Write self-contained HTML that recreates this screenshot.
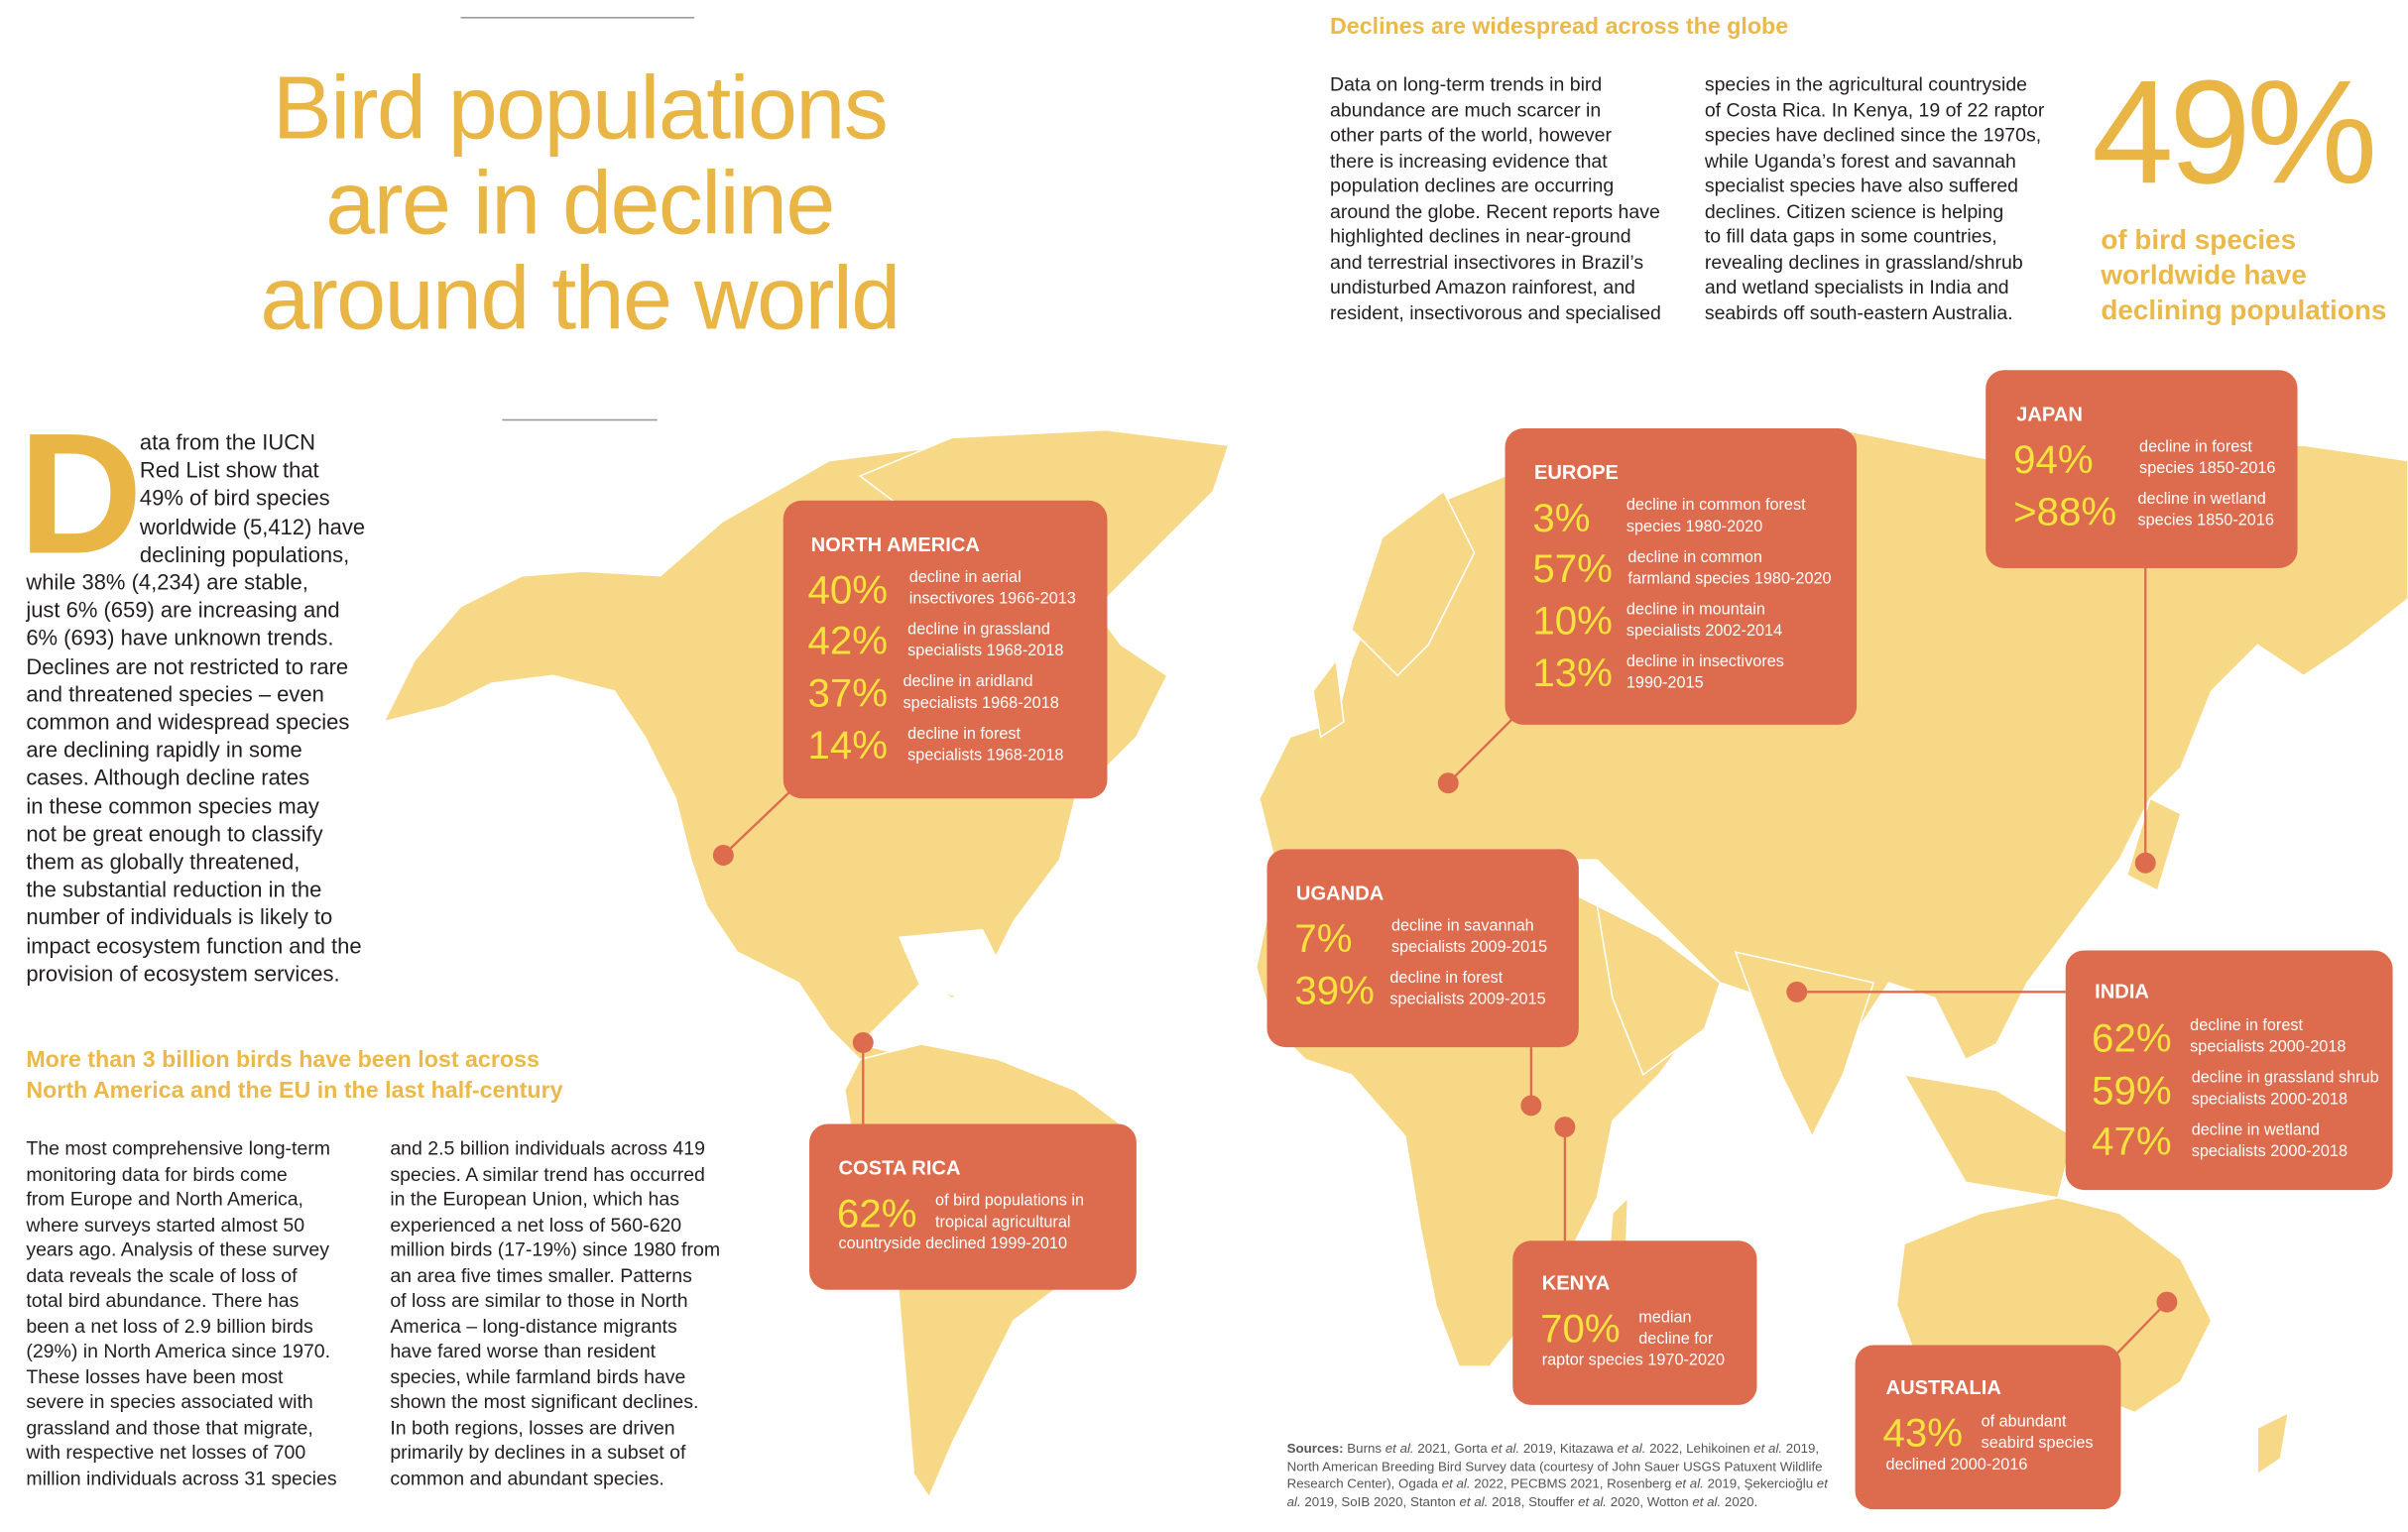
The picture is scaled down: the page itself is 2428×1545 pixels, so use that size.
<!DOCTYPE html>
<html><head><meta charset="utf-8">
<style>
html,body{margin:0;padding:0;background:#fff;}
body{width:2428px;height:1544px;overflow:hidden;}
#wrap{position:absolute;left:0;top:0;width:1568px;height:998px;transform:scale(1.5485);transform-origin:0 0;font-family:"Liberation Sans",sans-serif;color:#231f20;}
.abs{position:absolute;}
.title{left:100px;top:40px;width:555px;text-align:center;font-family:"Liberation Sans",sans-serif;font-size:58px;line-height:62px;color:#e9b545;letter-spacing:-1px;}
.p{font-size:14.2px;line-height:18.2px;}
.c{font-size:12.6px;line-height:16.5px;}
.h{font-weight:bold;color:#ebb84a;font-size:15px;line-height:20px;}
.box{position:absolute;background:#dd6b4d;border-radius:12px;color:#fff;}
.bt{position:absolute;font-weight:bold;font-size:13px;}
.pc{position:absolute;color:#f5e33b;font-size:26px;line-height:26px;}
.ds{position:absolute;font-size:10.5px;line-height:14px;}
</style></head><body>
<div id="wrap">
<svg class="abs" style="left:0;top:0" width="1568" height="998">
<g fill="#f6d886" stroke="#fff" stroke-width="1">
<polygon points="250,470 270,430 300,395 340,375 380,372 430,375 470,340 540,300 620,290 700,300 720,330 700,380 730,420 760,440 740,480 700,520 690,560 660,600 640,640 620,650 600,640 580,660 560,680 600,690 590,700 560,690 540,670 520,640 480,620 460,590 450,560 440,520 420,480 400,450 360,440 320,445 290,460"/>
<polygon points="560,310 620,285 720,280 800,290 790,320 760,350 720,390 690,430 670,400 640,360 600,340"/>
<polygon points="560,690 600,680 650,690 700,710 740,740 735,780 700,830 660,860 640,900 620,940 605,975 595,960 590,900 585,840 570,780 555,740 550,710"/>
<polygon points="830,560 820,520 840,480 870,470 880,430 900,380 930,330 980,310 1000,290 1100,300 1200,280 1300,300 1400,290 1500,290 1568,300 1568,390 1530,420 1500,440 1470,420 1440,450 1420,500 1400,520 1380,560 1350,600 1320,640 1300,680 1280,690 1260,650 1230,640 1210,670 1200,700 1180,735 1160,690 1150,650 1120,640 1100,620 1080,600 1060,580 1040,560 1000,560 960,555 920,560 880,560"/>
<polygon points="880,410 900,350 940,320 960,360 930,420 910,440"/>
<polygon points="855,450 870,430 875,470 860,480"/>
<polygon points="830,575 880,560 960,560 1000,570 1040,590 1060,620 1090,650 1110,660 1080,700 1050,730 1040,780 1010,840 970,890 950,890 935,850 925,800 915,740 880,700 850,690 830,670 818,630"/>
<polygon points="1050,790 1060,780 1058,840 1045,850"/>
<polygon points="1040,590 1080,610 1120,640 1110,670 1070,700 1050,650"/>
<polygon points="1130,620 1220,640 1200,700 1180,740 1160,700"/>
<polygon points="1240,700 1300,710 1350,740 1340,780 1280,770"/>
<polygon points="1240,810 1290,790 1340,780 1380,790 1420,820 1440,860 1420,900 1390,920 1340,900 1300,890 1250,890 1235,850"/>
<polygon points="1470,930 1490,920 1485,950 1470,960"/>
<polygon points="1400,520 1420,530 1405,580 1385,570"/>
</g>
<polygon fill="#fff" points="585,610 640,605 655,635 630,650 600,645"/>
<g stroke="#dd6b4d" stroke-width="1.5" fill="#dd6b4d">
<line x1="471" y1="557" x2="515" y2="515"/><circle cx="471" cy="557" r="6"/>
<line x1="943" y1="510" x2="985" y2="468"/><circle cx="943" cy="510" r="6"/>
<line x1="1397" y1="562" x2="1397" y2="370"/><circle cx="1397" cy="562" r="6"/>
<line x1="997" y1="720" x2="997" y2="682"/><circle cx="997" cy="720" r="6"/>
<line x1="1019" y1="734" x2="1019" y2="808"/><circle cx="1019" cy="734" r="6"/>
<line x1="1170" y1="646" x2="1345" y2="646"/><circle cx="1170" cy="646" r="6"/>
<line x1="562" y1="679" x2="562" y2="732"/><circle cx="562" cy="679" r="6"/>
<line x1="1411" y1="848" x2="1378" y2="882"/><circle cx="1411" cy="848" r="6"/>
</g>
</svg>

<div class="abs" style="left:300px;top:11px;width:152px;height:1px;background:#999"></div>
<div class="abs title">Bird populations<br>are in decline<br>around the world</div>
<div class="abs" style="left:327px;top:273px;width:101px;height:1px;background:#999"></div>

<div class="abs" style="left:12px;top:262px;font-size:112px;font-weight:bold;color:#e9b545;line-height:120px">D</div>
<div class="abs p" style="left:91px;top:280px;width:160px">ata from the IUCN<br>Red List show that<br>49% of bird species<br>worldwide (5,412) have<br>declining populations,</div>
<div class="abs p" style="left:17px;top:371px;width:240px">while 38% (4,234) are stable,<br>just 6% (659) are increasing and<br>6% (693) have unknown trends.<br>Declines are not restricted to rare<br>and threatened species – even<br>common and widespread species<br>are declining rapidly in some<br>cases. Although decline rates<br>in these common species may<br>not be great enough to classify<br>them as globally threatened,<br>the substantial reduction in the<br>number of individuals is likely to<br>impact ecosystem function and the<br>provision of ecosystem services.</div>

<div class="abs h" style="left:17px;top:681px">More than 3 billion birds have been lost across<br>North America and the EU in the last half-century</div>
<div class="abs c" style="left:17px;top:740px;width:230px">The most comprehensive long-term<br>monitoring data for birds come<br>from Europe and North America,<br>where surveys started almost 50<br>years ago. Analysis of these survey<br>data reveals the scale of loss of<br>total bird abundance. There has<br>been a net loss of 2.9 billion birds<br>(29%) in North America since 1970.<br>These losses have been most<br>severe in species associated with<br>grassland and those that migrate,<br>with respective net losses of 700<br>million individuals across 31 species</div>
<div class="abs c" style="left:254px;top:740px;width:230px">and 2.5 billion individuals across 419<br>species. A similar trend has occurred<br>in the European Union, which has<br>experienced a net loss of 560-620<br>million birds (17-19%) since 1980 from<br>an area five times smaller. Patterns<br>of loss are similar to those in North<br>America – long-distance migrants<br>have fared worse than resident<br>species, while farmland birds have<br>shown the most significant declines.<br>In both regions, losses are driven<br>primarily by declines in a subset of<br>common and abundant species.</div>

<div class="abs h" style="left:866px;top:8px">Declines are widespread across the globe</div>
<div class="abs c" style="left:866px;top:47px;width:240px">Data on long-term trends in bird<br>abundance are much scarcer in<br>other parts of the world, however<br>there is increasing evidence that<br>population declines are occurring<br>around the globe. Recent reports have<br>highlighted declines in near-ground<br>and terrestrial insectivores in Brazil’s<br>undisturbed Amazon rainforest, and<br>resident, insectivorous and specialised</div>
<div class="abs c" style="left:1110px;top:47px;width:240px">species in the agricultural countryside<br>of Costa Rica. In Kenya, 19 of 22 raptor<br>species have declined since the 1970s,<br>while Uganda’s forest and savannah<br>specialist species have also suffered<br>declines. Citizen science is helping<br>to fill data gaps in some countries,<br>revealing declines in grassland/shrub<br>and wetland specialists in India and<br>seabirds off south-eastern Australia.</div>
<div class="abs" style="left:1362px;top:32px;font-size:96px;line-height:110px;color:#e9b545;letter-spacing:-3px">49%</div>
<div class="abs" style="left:1368px;top:145px;font-size:18px;line-height:23px;font-weight:bold;color:#ebb84a">of bird species<br>worldwide have<br>declining populations</div>

<div class="box" style="left:510px;top:326px;width:211px;height:194px">
<div class="bt" style="left:18px;top:21px">NORTH AMERICA</div>
<div class="pc" style="left:16px;top:45px">40%</div><div class="ds" style="left:82px;top:43px">decline in aerial<br>insectivores 1966-2013</div>
<div class="pc" style="left:16px;top:78px">42%</div><div class="ds" style="left:81px;top:77px">decline in grassland<br>specialists 1968-2018</div>
<div class="pc" style="left:16px;top:112px">37%</div><div class="ds" style="left:78px;top:111px">decline in aridland<br>specialists 1968-2018</div>
<div class="pc" style="left:16px;top:146px">14%</div><div class="ds" style="left:81px;top:145px">decline in forest<br>specialists 1968-2018</div>
</div>
<div class="box" style="left:980px;top:279px;width:229px;height:193px">
<div class="bt" style="left:19px;top:21px">EUROPE</div>
<div class="pc" style="left:18px;top:45px">3%</div><div class="ds" style="left:79px;top:43px">decline in common forest<br>species 1980-2020</div>
<div class="pc" style="left:18px;top:78px">57%</div><div class="ds" style="left:80px;top:77px">decline in common<br>farmland species 1980-2020</div>
<div class="pc" style="left:18px;top:112px">10%</div><div class="ds" style="left:79px;top:111px">decline in mountain<br>specialists 2002-2014</div>
<div class="pc" style="left:18px;top:146px">13%</div><div class="ds" style="left:79px;top:145px">decline in insectivores<br>1990-2015</div>
</div>
<div class="box" style="left:1293px;top:241px;width:203px;height:129px">
<div class="bt" style="left:20px;top:21px">JAPAN</div>
<div class="pc" style="left:18px;top:45px">94%</div><div class="ds" style="left:100px;top:43px">decline in forest<br>species 1850-2016</div>
<div class="pc" style="left:18px;top:79px">&gt;88%</div><div class="ds" style="left:99px;top:77px">decline in wetland<br>species 1850-2016</div>
</div>
<div class="box" style="left:825px;top:553px;width:203px;height:129px">
<div class="bt" style="left:19px;top:21px">UGANDA</div>
<div class="pc" style="left:18px;top:45px">7%</div><div class="ds" style="left:81px;top:43px">decline in savannah<br>specialists 2009-2015</div>
<div class="pc" style="left:18px;top:79px">39%</div><div class="ds" style="left:80px;top:77px">decline in forest<br>specialists 2009-2015</div>
</div>
<div class="box" style="left:1345px;top:619px;width:213px;height:156px">
<div class="bt" style="left:19px;top:19px">INDIA</div>
<div class="pc" style="left:17px;top:44px">62%</div><div class="ds" style="left:81px;top:42px">decline in forest<br>specialists 2000-2018</div>
<div class="pc" style="left:17px;top:78px">59%</div><div class="ds" style="left:82px;top:76px">decline in grassland shrub<br>specialists 2000-2018</div>
<div class="pc" style="left:17px;top:111px">47%</div><div class="ds" style="left:82px;top:110px">decline in wetland<br>specialists 2000-2018</div>
</div>
<div class="box" style="left:527px;top:732px;width:213px;height:108px">
<div class="bt" style="left:19px;top:21px">COSTA RICA</div>
<div class="pc" style="left:18px;top:45px">62%</div><div class="ds" style="left:82px;top:43px">of bird populations in<br>tropical agricultural</div>
<div class="ds" style="left:19px;top:71px">countryside declined 1999-2010</div>
</div>
<div class="box" style="left:985px;top:808px;width:159px;height:107px">
<div class="bt" style="left:19px;top:20px">KENYA</div>
<div class="pc" style="left:18px;top:44px">70%</div><div class="ds" style="left:82px;top:43px">median<br>decline for</div>
<div class="ds" style="left:19px;top:71px">raptor species 1970-2020</div>
</div>
<div class="box" style="left:1208px;top:876px;width:173px;height:107px">
<div class="bt" style="left:20px;top:20px">AUSTRALIA</div>
<div class="pc" style="left:18px;top:44px">43%</div><div class="ds" style="left:82px;top:43px">of abundant<br>seabird species</div>
<div class="ds" style="left:20px;top:71px">declined 2000-2016</div>
</div>

<div class="abs" style="left:838px;top:938px;width:360px;font-size:8.6px;line-height:11.5px;color:#555"><b>Sources:</b> Burns <i>et al.</i> 2021, Gorta <i>et al.</i> 2019, Kitazawa <i>et al.</i> 2022, Lehikoinen <i>et al.</i> 2019, North American Breeding Bird Survey data (courtesy of John Sauer USGS Patuxent Wildlife Research Center), Ogada <i>et al.</i> 2022, PECBMS 2021, Rosenberg <i>et al.</i> 2019, Şekercioğlu <i>et al.</i> 2019, SoIB 2020, Stanton <i>et al.</i> 2018, Stouffer <i>et al.</i> 2020, Wotton <i>et al.</i> 2020.</div>
</div>
</body></html>
